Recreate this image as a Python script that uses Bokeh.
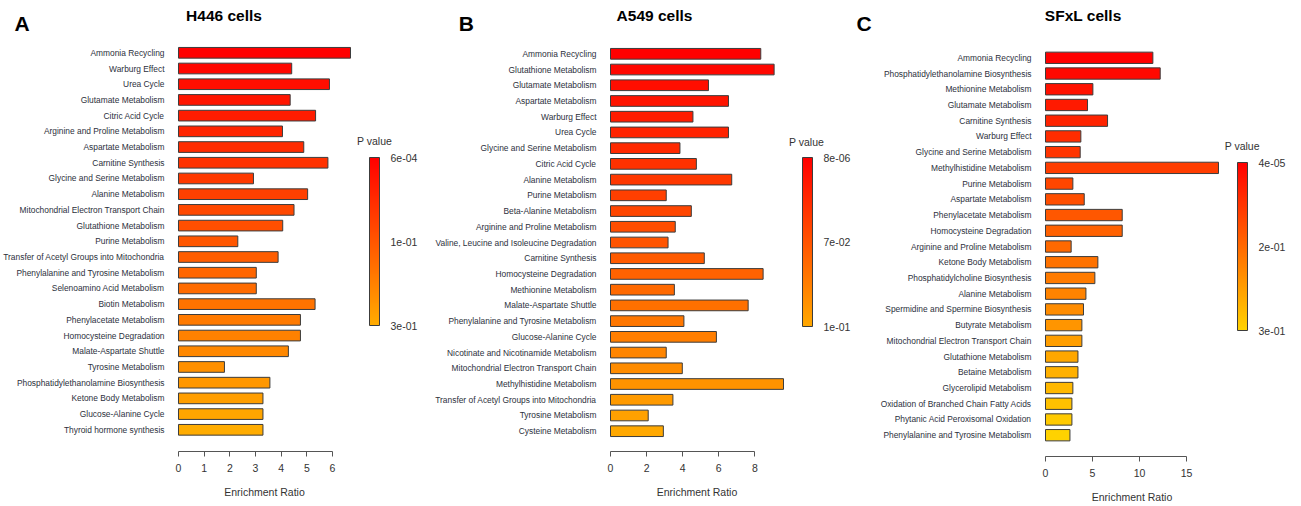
import colorsys
from bokeh.plotting import figure
from bokeh.layouts import row, column
from bokeh.models import (Range1d, FixedTicker, ColorBar, LinearColorMapper,
                          ColumnDataSource)
from bokeh.core.properties import value
from bokeh.embed import file_html
from bokeh.resources import INLINE

# ---------------- data ----------------
h446_pathways = [
    "Ammonia Recycling", "Warburg Effect", "Urea Cycle", "Glutamate Metabolism",
    "Citric Acid Cycle", "Arginine and Proline Metabolism", "Aspartate Metabolism",
    "Carnitine Synthesis", "Glycine and Serine Metabolism", "Alanine Metabolism",
    "Mitochondrial Electron Transport Chain", "Glutathione Metabolism",
    "Purine Metabolism", "Transfer of Acetyl Groups into Mitochondria",
    "Phenylalanine and Tyrosine Metabolism", "Selenoamino Acid Metabolism",
    "Biotin Metabolism", "Phenylacetate Metabolism", "Homocysteine Degradation",
    "Malate-Aspartate Shuttle", "Tyrosine Metabolism",
    "Phosphatidylethanolamine Biosynthesis", "Ketone Body Metabolism",
    "Glucose-Alanine Cycle", "Thyroid hormone synthesis",
]
h446_ratio = [6.70, 4.41, 5.88, 4.35, 5.34, 4.05, 4.88, 5.82, 2.92, 5.03,
              4.50, 4.06, 2.31, 3.88, 3.03, 3.03, 5.32, 4.75, 4.75, 4.28,
              1.79, 3.56, 3.29, 3.29, 3.29]
h446_x_ticks = [0, 1, 2, 3, 4, 5, 6]
h446_p_ticks = ["6e-04", "1e-01", "3e-01"]

a549_pathways = [
    "Ammonia Recycling", "Glutathione Metabolism", "Glutamate Metabolism",
    "Aspartate Metabolism", "Warburg Effect", "Urea Cycle",
    "Glycine and Serine Metabolism", "Citric Acid Cycle", "Alanine Metabolism",
    "Purine Metabolism", "Beta-Alanine Metabolism",
    "Arginine and Proline Metabolism",
    "Valine, Leucine and Isoleucine Degradation", "Carnitine Synthesis",
    "Homocysteine Degradation", "Methionine Metabolism",
    "Malate-Aspartate Shuttle", "Phenylalanine and Tyrosine Metabolism",
    "Glucose-Alanine Cycle", "Nicotinate and Nicotinamide Metabolism",
    "Mitochondrial Electron Transport Chain", "Methylhistidine Metabolism",
    "Transfer of Acetyl Groups into Mitochondria", "Tyrosine Metabolism",
    "Cysteine Metabolism",
]
a549_ratio = [8.33, 9.07, 5.43, 6.54, 4.57, 6.54, 3.85, 4.76, 6.72, 3.09,
              4.48, 3.59, 3.19, 5.20, 8.46, 3.54, 7.63, 4.07, 5.87, 3.09,
              3.98, 9.59, 3.46, 2.09, 2.93]
a549_x_ticks = [0, 2, 4, 6, 8]
a549_p_ticks = ["8e-06", "7e-02", "1e-01"]

sfxl_pathways = [
    "Ammonia Recycling", "Phosphatidylethanolamine Biosynthesis",
    "Methionine Metabolism", "Glutamate Metabolism", "Carnitine Synthesis",
    "Warburg Effect", "Glycine and Serine Metabolism",
    "Methylhistidine Metabolism", "Purine Metabolism", "Aspartate Metabolism",
    "Phenylacetate Metabolism", "Homocysteine Degradation",
    "Arginine and Proline Metabolism", "Ketone Body Metabolism",
    "Phosphatidylcholine Biosynthesis", "Alanine Metabolism",
    "Spermidine and Spermine Biosynthesis", "Butyrate Metabolism",
    "Mitochondrial Electron Transport Chain", "Glutathione Metabolism",
    "Betaine Metabolism", "Glycerolipid Metabolism",
    "Oxidation of Branched Chain Fatty Acids",
    "Phytanic Acid Peroxisomal Oxidation",
    "Phenylalanine and Tyrosine Metabolism",
]
sfxl_ratio = [11.42, 12.20, 5.04, 4.47, 6.60, 3.76, 3.69, 18.40, 2.91, 4.12,
              8.16, 8.16, 2.73, 5.57, 5.25, 4.30, 4.04, 3.87, 3.87, 3.45,
              3.45, 2.91, 2.81, 2.81, 2.60]
sfxl_x_ticks = [0, 5, 10, 15]
sfxl_p_ticks = ["4e-05", "2e-01", "3e-01"]

panel_letters = ["A", "B", "C"]
panel_titles = ["H446 cells", "A549 cells", "SFxL cells"]
x_title = "Enrichment Ratio"
legend_title = "P value"

# ---------------- styles / layout ----------------
FONT = "Liberation Sans"
TOTAL_W = 1301
HEAD_H = 36
PANEL_H = 470
LABEL_COLOR = "#2c303c"
TEXT_COLOR = "#333333"
EDGE = "#3c3c3c"

# header text anchor positions (px)
letter_pos = [(21.7, 22.5), (465.8, 22.5), (863.5, 22.5)]
title_pos = [(223.5, 15.3), (654.0, 15.3), (1082.7, 15.3)]

# per panel: total width, main-figure left border, px per x unit,
# bar centre rows / axis line (page px), colour-bar geometry (page px)
styles = [
    dict(w=430, left=176, scale=25.83, first=52.3, last=429.3, axis=450.7,
         bh=0.68, end_hue=40.5, cb_x=16, cb_bottom=325, cbh=168,
         pv=(21, 140)),
    dict(w=430, left=179, scale=18.0, first=53.3, last=430.7, axis=451.3,
         bh=0.68, end_hue=39.5, cb_x=16, cb_bottom=326, cbh=169,
         pv=(20, 141.7)),
    dict(w=441, left=184, scale=9.4, first=57.3, last=434.7, axis=456.0,
         bh=0.72, end_hue=49.5, cb_x=16, cb_bottom=330, cbh=168,
         pv=(20.7, 145.7)),
]


def heat(frac, end_hue):
    r, g, b = colorsys.hsv_to_rgb(end_hue / 360.0 * frac, 1.0, 1.0)
    return "#%02x%02x%02x" % (round(r * 255), round(g * 255), round(b * 255))


def make_panel(pathways, ratios, xticks, pticks, st):
    n = len(pathways)
    palette = [heat(1 - k / 255.0, st["end_hue"]) for k in range(256)]  # low -> high
    mapper = LinearColorMapper(palette=palette, low=0, high=1)

    # ---- main bar chart ----
    xmax = max(ratios)
    pad = 1.0 / st["scale"]            # one pixel of room on each side
    frame_w = round(xmax * st["scale"] + 2)
    main_w = st["left"] + frame_w + 2

    bottom_border = round(PANEL_H - (st["axis"] - HEAD_H))
    axis_y = PANEL_H - bottom_border
    first = st["first"] - HEAD_H
    last = st["last"] - HEAD_H
    spacing = (last - first) / (n - 1)
    y_top = -first / spacing
    y_bottom = (n - 1) + (axis_y - last) / spacing

    p = figure(width=main_w, height=PANEL_H,
               x_range=Range1d(-pad, xmax + pad),
               y_range=Range1d(y_bottom, y_top), output_backend="svg",
               toolbar_location=None,
               min_border_left=st["left"], min_border_right=2,
               min_border_top=0, min_border_bottom=bottom_border)
    p.outline_line_color = None
    p.grid.visible = False

    src = ColumnDataSource(dict(idx=list(range(n)), ratio=ratios,
                                level=[1 - i / (n - 1) for i in range(n)]))
    p.hbar(y="idx", left=0, right="ratio", height=st["bh"], source=src,
           fill_color={"field": "level", "transform": mapper},
           line_color=EDGE, line_width=1)

    xa = p.xaxis[0]
    xa.ticker = FixedTicker(ticks=xticks)
    xa.bounds = (xticks[0], xticks[-1])
    xa.axis_label = x_title
    xa.axis_label_text_font = FONT
    xa.axis_label_text_font_style = "normal"
    xa.axis_label_text_font_size = "10.5px"
    xa.axis_label_text_color = TEXT_COLOR
    xa.axis_label_standoff = 11
    xa.major_label_text_font = FONT
    xa.major_label_text_font_size = "10.5px"
    xa.major_label_text_color = TEXT_COLOR
    xa.major_label_standoff = 7
    xa.major_tick_out = 5
    xa.major_tick_in = 0
    xa.minor_tick_line_color = None
    xa.axis_line_color = "#555555"
    xa.major_tick_line_color = "#555555"

    ya = p.yaxis[0]
    ya.ticker = FixedTicker(ticks=list(range(n)))
    ya.major_label_overrides = {i: name for i, name in enumerate(pathways)}
    ya.axis_line_color = None
    ya.major_tick_line_color = None
    ya.major_tick_out = 0
    ya.major_tick_in = 0
    ya.minor_tick_line_color = None
    ya.minor_tick_out = 0
    ya.major_label_text_font = FONT
    ya.major_label_text_font_size = "8.4px"
    ya.major_label_text_color = LABEL_COLOR
    ya.major_label_standoff = 13

    # ---- colour-bar legend figure (frame = panel top .. axis line, px units) ----
    leg_w = st["w"] - main_w
    leg = figure(width=leg_w, height=PANEL_H, x_range=Range1d(0, leg_w),
                 y_range=Range1d(axis_y, 0), output_backend="svg",
                 toolbar_location=None, x_axis_type=None, y_axis_type=None,
                 min_border_left=0, min_border_right=0, min_border_top=0,
                 min_border_bottom=bottom_border)
    leg.outline_line_color = None
    leg.grid.visible = False
    cb = ColorBar(color_mapper=mapper, ticker=FixedTicker(ticks=[0, 0.5, 1]),
                  major_label_overrides={1: pticks[0], 0.5: pticks[1], 0: pticks[2]},
                  width=10, height=st["cbh"], padding=0, margin=0,
                  location=(st["cb_x"], axis_y - (st["cb_bottom"] - HEAD_H)),
                  bar_line_color=EDGE, bar_line_width=1,
                  major_tick_line_color=None, minor_tick_line_color=None,
                  major_label_text_font=FONT, major_label_text_font_size="10.5px",
                  major_label_text_color=TEXT_COLOR, label_standoff=11,
                  background_fill_alpha=0, border_line_color=None)
    leg.add_layout(cb, "center")
    leg.text(x=[st["pv"][0]], y=[st["pv"][1] - HEAD_H], text=[legend_title],
             text_align="center", text_baseline="middle", text_font=value(FONT),
             text_font_size="10.5px", text_color=TEXT_COLOR)
    return row(p, leg, spacing=0)


# header row with panel letters and titles
head = figure(width=TOTAL_W, height=HEAD_H, x_range=Range1d(0, TOTAL_W),
              y_range=Range1d(HEAD_H, 0), output_backend="svg",
              toolbar_location=None, x_axis_type=None, y_axis_type=None,
              min_border=0)
head.outline_line_color = None
head.grid.visible = False
head.text(x=[q[0] for q in letter_pos], y=[q[1] for q in letter_pos],
          text=panel_letters, text_align="center", text_baseline="middle",
          text_font=value(FONT), text_font_size="21px", text_font_style="bold",
          text_color="black")
head.text(x=[q[0] for q in title_pos], y=[q[1] for q in title_pos],
          text=panel_titles, text_align="center", text_baseline="middle",
          text_font=value(FONT), text_font_size="15.5px", text_font_style="bold",
          text_color="black")

panels = [
    make_panel(h446_pathways, h446_ratio, h446_x_ticks, h446_p_ticks, styles[0]),
    make_panel(a549_pathways, a549_ratio, a549_x_ticks, a549_p_ticks, styles[1]),
    make_panel(sfxl_pathways, sfxl_ratio, sfxl_x_ticks, sfxl_p_ticks, styles[2]),
]

layout = column(head, row(*panels, spacing=0), spacing=0)
open("out.html", "w").write(file_html(layout, INLINE))
